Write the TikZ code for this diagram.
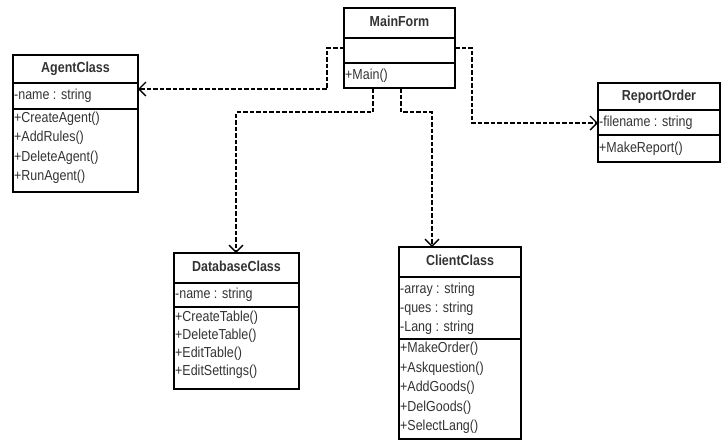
\documentclass[tikz,border=0pt]{standalone}
\usepackage{fontspec}
\setmainfont{Liberation Sans}[FakeStretch=0.86]
\usetikzlibrary{arrows.meta}
\tikzset{
  classbox/.style={draw=black, line width=1.3pt, anchor=north west, inner sep=0pt, outer sep=0pt, fill=none},
  sepline/.style={draw=black, line width=1.3pt},
  titletext/.style={font=\fontsize{14.5}{17}\selectfont\bfseries, text=black!80, inner sep=0pt, text height=10.5pt, text depth=3pt},
  member/.style={font=\fontsize{14.5}{17}\selectfont, text=black!80, anchor=west, inner sep=0pt, text height=10.5pt, text depth=3pt},
  dep/.style={draw=black, line width=1.3pt, dash pattern=on 4.5pt off 2pt, -{Straight Barb[length=7pt,width=14pt,line width=1.3pt]}},
}
\begin{document}
\begin{tikzpicture}[x=1pt,y=-1pt]
\useasboundingbox (0,0) rectangle (721,440);
% MainForm
\node[classbox, minimum width=111pt, minimum height=80pt] (main) at (344,8) {};
\draw[sepline] (main.west |- 0,38) -- (main.east |- 0,38);
\draw[sepline] (main.west |- 0,63) -- (main.east |- 0,63);
\node[titletext] (mainT) at (399.5,23) {MainForm};
\node[member] (mainM1) at (345,75.5) {+Main()};
% AgentClass
\node[classbox, minimum width=125pt, minimum height=137pt] (agent) at (13,55) {};
\draw[sepline] (agent.west |- 0,83) -- (agent.east |- 0,83);
\draw[sepline] (agent.west |- 0,109) -- (agent.east |- 0,109);
\node[titletext] (agentT) at (75.5,69) {AgentClass};
\node[member] (agentA1) at (14,96) {-name : string};
\node[member] (agentM1) at (14,118.5) {+CreateAgent()};
\node[member] (agentM2) at (14,138) {+AddRules()};
\node[member] (agentM3) at (14,157.5) {+DeleteAgent()};
\node[member] (agentM4) at (14,177) {+RunAgent()};
% ReportOrder
\node[classbox, minimum width=122pt, minimum height=79pt] (report) at (598,83) {};
\draw[sepline] (report.west |- 0,110) -- (report.east |- 0,110);
\draw[sepline] (report.west |- 0,135) -- (report.east |- 0,135);
\node[titletext] (reportT) at (659,96.5) {ReportOrder};
\node[member] (reportA1) at (599,122.5) {-filename : string};
\node[member] (reportM1) at (599,148.5) {+MakeReport()};
% DatabaseClass
\node[classbox, minimum width=125pt, minimum height=136pt] (db) at (174,253) {};
\draw[sepline] (db.west |- 0,283) -- (db.east |- 0,283);
\draw[sepline] (db.west |- 0,307) -- (db.east |- 0,307);
\node[titletext] (dbT) at (236.5,268) {DatabaseClass};
\node[member] (dbA1) at (175,295) {-name : string};
\node[member] (dbM1) at (175,318) {+CreateTable()};
\node[member] (dbM2) at (175,336) {+DeleteTable()};
\node[member] (dbM3) at (175,354) {+EditTable()};
\node[member] (dbM4) at (175,372) {+EditSettings()};
% ClientClass
\node[classbox, minimum width=122pt, minimum height=192pt] (client) at (399,247) {};
\draw[sepline] (client.west |- 0,277) -- (client.east |- 0,277);
\draw[sepline] (client.west |- 0,339) -- (client.east |- 0,339);
\node[titletext] (clientT) at (460,262) {ClientClass};
\node[member] (clientA1) at (400,289.5) {-array : string};
\node[member] (clientA2) at (400,308.5) {-ques : string};
\node[member] (clientA3) at (400,327.5) {-Lang : string};
\node[member] (clientM1) at (400,349) {+MakeOrder()};
\node[member] (clientM2) at (400,368.5) {+Askquestion()};
\node[member] (clientM3) at (400,388) {+AddGoods()};
\node[member] (clientM4) at (400,407.5) {+DelGoods()};
\node[member] (clientM5) at (400,427) {+SelectLang()};
% dependencies
\draw[dep] (main.west) -| (327,89) -- (agent.east |- 0,89);
\draw[dep] (main.east) -| (472,123) -- (report.west |- 0,123);
\draw[dep] (main.south -| 373,0) |- (236,112) -- (db.north -| 236,0);
\draw[dep] (main.south -| 401,0) |- (432,112) -- (client.north -| 432,0);
\end{tikzpicture}
\end{document}
